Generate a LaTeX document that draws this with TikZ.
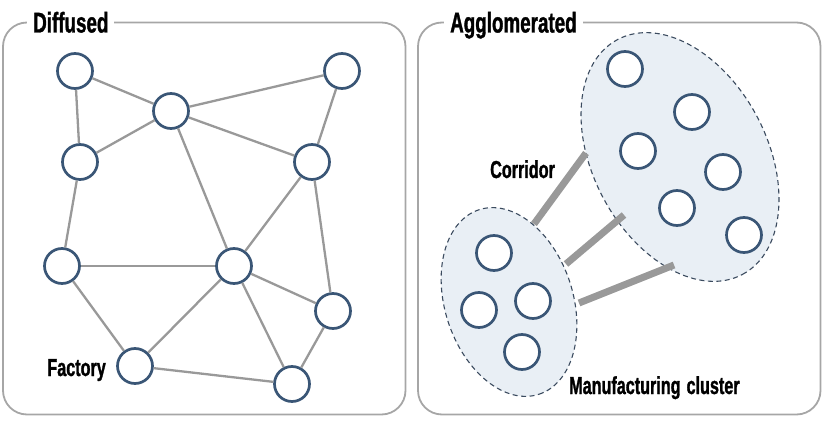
\documentclass[tikz,border=0pt]{standalone}
\usepackage{fontspec}
\newfontfamily\condfont[FakeStretch=0.66, BoldFeatures={FakeBold=1.2}]{Liberation Sans}
\usetikzlibrary{shapes.geometric, positioning}
\definecolor{nodeblue}{HTML}{3A5676}
\definecolor{edgegray}{HTML}{999999}
\definecolor{panelgray}{HTML}{A6A6A6}
\definecolor{clusterfill}{HTML}{E9EFF5}
\definecolor{clusterline}{HTML}{3B4B5F}

\begin{document}
\begin{tikzpicture}[
    x=1pt, y=-1pt,
    firm/.style={circle, draw=nodeblue, line width=2.7pt, fill=white, minimum size=35pt, inner sep=0pt},
    link/.style={draw=edgegray, line width=2.3pt},
    corridor/.style={draw=edgegray, line width=7pt},
    panel/.style={draw=panelgray, line width=1.8pt, rounded corners=24pt},
    title/.style={fill=white, inner xsep=6pt, inner ysep=2pt, anchor=base west, font=\condfont\bfseries\fontsize{28.5}{30}\selectfont},
    lbl/.style={inner sep=0pt, font=\condfont\bfseries\fontsize{24.5}{26}\selectfont},
    cluster/.style={ellipse, draw=clusterline, dash pattern=on 5pt off 3.5pt, line width=1.1pt, fill=clusterfill, inner sep=0pt}
  ]
  \useasboundingbox (0,0) rectangle (828,425);

  % panels
  \draw[panel] (3,22.5) rectangle (405.5,414.5);
  \draw[panel] (418,22.5) rectangle (820.5,414.5);
  \node[title] (diffused) at (27,32.5) {Diffused};
  \node[title] (agglom) at (444,32.5) {Agglomerated};

  % diffused network
  \node[firm] (f1) at (75,71) {};
  \node[firm] (f2) at (171,111) {};
  \node[firm] (f3) at (342,71) {};
  \node[firm] (f4) at (80,162) {};
  \node[firm] (f5) at (312,162) {};
  \node[firm] (f6) at (62,266) {};
  \node[firm] (f7) at (234,266) {};
  \node[firm] (f8) at (333,311) {};
  \node[firm] (f9) at (135,366) {};
  \node[firm] (f10) at (292,384) {};

  \draw[link] (f1) -- (f2);
  \draw[link] (f1) -- (f4);
  \draw[link] (f2) -- (f3);
  \draw[link] (f2) -- (f4);
  \draw[link] (f2) -- (f5);
  \draw[link] (f2) -- (f7);
  \draw[link] (f3) -- (f5);
  \draw[link] (f5) -- (f7);
  \draw[link] (f5) -- (f8);
  \draw[link] (f4) -- (f6);
  \draw[link] (f6) -- (f7);
  \draw[link] (f6) -- (f9);
  \draw[link] (f7) -- (f9);
  \draw[link] (f7) -- (f8);
  \draw[link] (f7) -- (f10);
  \draw[link] (f8) -- (f10);
  \draw[link] (f9) -- (f10);

  \node[lbl, anchor=base east] (factory) at (106,376) {Factory};

  % agglomerated clusters
  \node[cluster, minimum width=266pt, minimum height=174pt, rotate=-62] (bigcl) at (680,157) {};
  \node[cluster, minimum width=194pt, minimum height=128pt, rotate=-72] (smallcl) at (509,302) {};

  \coordinate (c1a) at (534,224);
  \coordinate (c1b) at (586,153);
  \coordinate (c2a) at (566,264);
  \coordinate (c2b) at (624,215);
  \coordinate (c3a) at (579,303);
  \coordinate (c3b) at (674,265);
  \draw[corridor] (c1a) -- (c1b);
  \draw[corridor] (c2a) -- (c2b);
  \draw[corridor] (c3a) -- (c3b);

  \node[firm] (b1) at (625,69) {};
  \node[firm] (b2) at (692,112) {};
  \node[firm] (b3) at (638,151) {};
  \node[firm] (b4) at (723,172) {};
  \node[firm] (b5) at (677,208) {};
  \node[firm] (b6) at (744,235) {};

  \node[firm] (s1) at (494,253) {};
  \node[firm] (s2) at (479,310) {};
  \node[firm] (s3) at (533,301) {};
  \node[firm] (s4) at (522,352) {};

  \node[lbl, anchor=base west] (corrlbl) at (490,178) {Corridor};
  \node[lbl, anchor=base west] (clustlbl) at (569,394) {Manufacturing\hspace{6pt}cluster};
\end{tikzpicture}
\end{document}
